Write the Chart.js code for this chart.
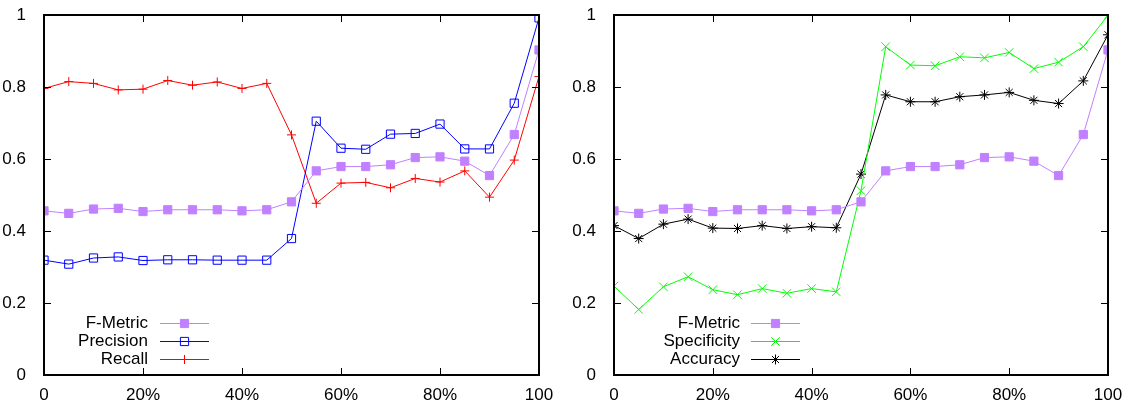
<!DOCTYPE html>
<html>
<head>
<meta charset="utf-8">
<script src="https://cdn.jsdelivr.net/npm/chart.js@4"></script>
<style>
  html, body { margin: 0; padding: 0; background: #fff; }
  #wrap { display: flex; width: 1129px; height: 407px; }
  canvas { display: block; }
</style>
</head>
<body>
<div id="wrap">
  <canvas id="left" width="565" height="407"></canvas>
  <canvas id="right" width="564" height="407"></canvas>
</div>
<script>
// x positions, 0..100 step 5
var xValues = [0, 5, 10, 15, 20, 25, 30, 35, 40, 45, 50, 55, 60, 65, 70, 75, 80, 85, 90, 95, 100];

var fMetric     = [0.456, 0.449, 0.461, 0.463, 0.454, 0.459, 0.459, 0.459, 0.456, 0.459, 0.481, 0.567, 0.579, 0.579, 0.584, 0.604, 0.606, 0.594, 0.554, 0.668, 0.903];
var precision   = [0.319, 0.308, 0.325, 0.328, 0.318, 0.320, 0.320, 0.319, 0.319, 0.319, 0.379, 0.705, 0.630, 0.627, 0.669, 0.671, 0.697, 0.628, 0.628, 0.755, 0.992];
var recall      = [0.796, 0.815, 0.810, 0.792, 0.794, 0.818, 0.805, 0.814, 0.796, 0.810, 0.667, 0.477, 0.533, 0.535, 0.520, 0.546, 0.536, 0.567, 0.494, 0.597, 0.829];
var specificity = [0.247, 0.182, 0.245, 0.273, 0.237, 0.223, 0.240, 0.227, 0.240, 0.231, 0.512, 0.912, 0.861, 0.859, 0.884, 0.881, 0.896, 0.851, 0.869, 0.912, 0.999];
var accuracy    = [0.415, 0.379, 0.419, 0.433, 0.408, 0.407, 0.415, 0.407, 0.412, 0.409, 0.558, 0.778, 0.759, 0.759, 0.773, 0.778, 0.785, 0.763, 0.754, 0.817, 0.945];

var xTickLabels = ['0', '20%', '40%', '60%', '80%', '100'];
var yTickLabels = ['0', '0.2', '0.4', '0.6', '0.8', '1'];

var FONT = "'Liberation Sans', Arial, sans-serif";

function pts(ys) {
    return ys.map(function (y, i) { return { x: xValues[i], y: y }; });
}

function series(label, ys, color, style, radius, fill) {
    return {
        label: label,
        data: pts(ys),
        borderColor: color,
        backgroundColor: color,
        borderWidth: 1,
        pointStyle: style,
        pointRadius: radius,
        pointHoverRadius: radius,
        pointBorderColor: color,
        pointBackgroundColor: fill,
        pointBorderWidth: 1,
        tension: 0
    };
}

// gnuplot style box round the plot with short inward ticks
var framePlugin = {
    id: 'gpFrame',
    afterDraw: function (chart) {
        var a = chart.chartArea, ctx = chart.ctx;
        var L = Math.round(a.left), R = Math.round(a.right);
        var T = Math.round(a.top), B = Math.round(a.bottom);
        var xs = chart.scales.x, ys = chart.scales.y;
        ctx.save();
        ctx.fillStyle = '#000';
        ctx.fillRect(L - 1, T - 1, R - L + 2, 2);
        ctx.fillRect(L - 1, B - 1, R - L + 2, 2);
        ctx.fillRect(L - 1, T - 1, 2, B - T + 2);
        ctx.fillRect(R - 1, T - 1, 2, B - T + 2);
        xs.ticks.forEach(function (t) {
            var px = Math.round(xs.getPixelForValue(t.value));
            ctx.fillRect(px, B - 7, 1, 7);
            ctx.fillRect(px, T, 1, 7);
        });
        ys.ticks.forEach(function (t) {
            var py = Math.round(ys.getPixelForValue(t.value));
            ctx.fillRect(L, py, 7, 1);
            ctx.fillRect(R - 7, py, 7, 1);
        });
        ctx.restore();
    }
};

// key in the lower left: text right aligned, then a line sample with marker
var keyPlugin = {
    id: 'gpKey',
    afterDraw: function (chart, args, opts) {
        var a = chart.chartArea, ctx = chart.ctx;
        var L = Math.round(a.left), B = Math.round(a.bottom);
        ctx.save();
        ctx.font = '17px ' + FONT;
        ctx.textAlign = 'right';
        ctx.textBaseline = 'middle';
        chart.data.datasets.forEach(function (ds, i) {
            var y = B - opts.rowsFromBottom[i];
            var x0 = L + opts.lineStart, x1 = L + opts.lineEnd;
            ctx.fillStyle = '#000';
            ctx.fillText(ds.label, L + opts.textRight, y);
            ctx.strokeStyle = ds.borderColor;
            ctx.lineWidth = 1;
            ctx.beginPath();
            ctx.moveTo(x0, y + 0.5); ctx.lineTo(x1, y + 0.5);
            ctx.stroke();
            ctx.fillStyle = ds.pointBackgroundColor;
            ctx.strokeStyle = ds.pointBorderColor;
            Chart.helpers.drawPoint(ctx, {
                pointStyle: ds.pointStyle, radius: ds.pointRadius, rotation: 0, borderWidth: 1
            }, (x0 + x1) / 2, y + 0.5);
        });
        ctx.restore();
    }
};

function makeChart(id, datasets, leftWidth, rightPad, key) {
    return new Chart(document.getElementById(id), {
        type: 'line',
        data: { datasets: datasets },
        plugins: [framePlugin, keyPlugin],
        options: {
            responsive: false,
            devicePixelRatio: 1,
            animation: false,
            layout: { padding: { top: 15, right: rightPad, left: 0, bottom: 0 } },
            plugins: {
                legend: { display: false },
                tooltip: { enabled: false },
                gpKey: key
            },
            scales: {
                x: {
                    type: 'linear',
                    min: 0, max: 100,
                    grid: { display: false },
                    border: { display: true, color: '#000', width: 2 },
                    afterFit: function (s) { s.height = 32; s.paddingLeft = 0; s.paddingRight = 0; },
                    ticks: {
                        stepSize: 20,
                        autoSkip: false,
                        maxRotation: 0,
                        padding: 2,
                        color: '#000',
                        font: { family: FONT, size: 17 },
                        callback: function (v, i) { return xTickLabels[i]; }
                    }
                },
                y: {
                    min: 0, max: 1,
                    grid: { display: false },
                    border: { display: true, color: '#000', width: 2 },
                    afterFit: function (s) { s.width = leftWidth; s.paddingTop = 0; s.paddingBottom = 0; },
                    ticks: {
                        stepSize: 0.2,
                        padding: 10,
                        color: '#000',
                        font: { family: FONT, size: 17 },
                        callback: function (v, i) { return yTickLabels[i]; }
                    }
                }
            }
        }
    });
}

var PURPLE = '#c080ff';

makeChart('left', [
    series('F-Metric', fMetric, PURPLE, 'rect', 5.8, PURPLE),
    series('Precision', precision, '#0000ff', 'rect', 5.8, 'rgba(0,0,0,0)'),
    series('Recall', recall, '#ff0000', 'cross', 4.5, '#ff0000')
], 44, 26, { textRight: 104, lineStart: 116, lineEnd: 165, rowsFromBottom: [52, 34, 16] });

makeChart('right', [
    series('F-Metric', fMetric, PURPLE, 'rect', 5.8, PURPLE),
    series('Specificity', specificity, '#00ff00', 'crossRot', 6, '#00ff00'),
    series('Accuracy', accuracy, '#000000', 'star', 5, '#000000')
], 49, 21, { textRight: 126, lineStart: 137, lineEnd: 186, rowsFromBottom: [52, 34, 16] });
</script>
</body>
</html>
